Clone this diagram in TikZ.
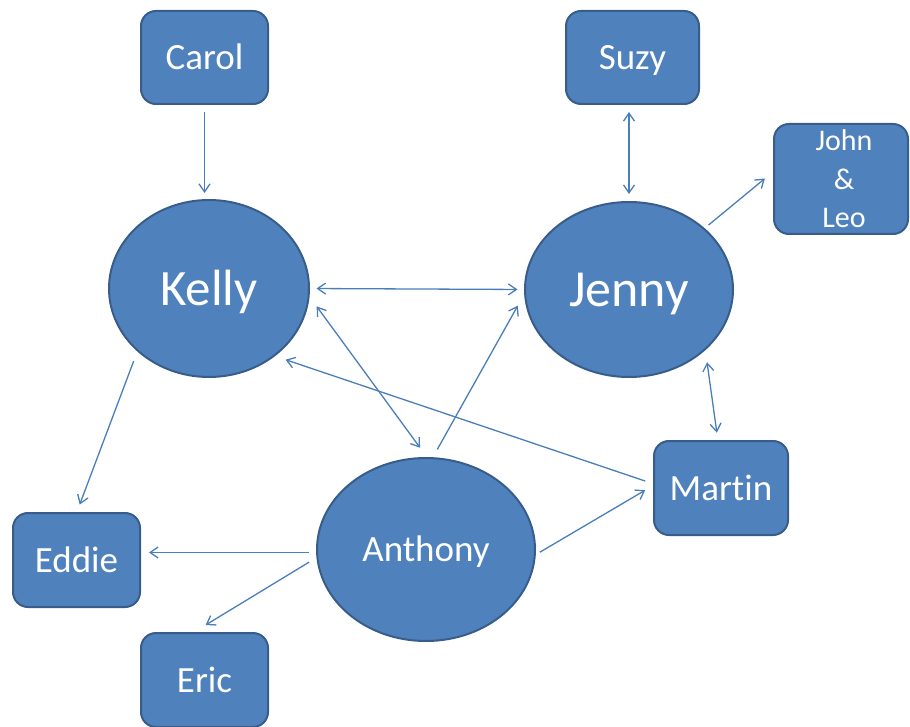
\documentclass[tikz,border=0pt]{standalone}
\usepackage{fontspec}
\setmainfont{Carlito}[Ligatures=NoCommon]
\usetikzlibrary{shapes.geometric,arrows.meta}
\definecolor{boxfill}{HTML}{4F81BD}
\definecolor{boxline}{HTML}{385D8A}
\definecolor{linkcol}{HTML}{4A7EBB}
\begin{document}
\begin{tikzpicture}[x=1pt,y=-1pt,
  person/.style={draw=boxline, fill=boxfill, line width=2pt, rounded corners=15pt,
    text=white, inner sep=0pt, outer sep=0pt, align=center,
    font=\fontsize{37}{40}\selectfont, text height=33pt, text depth=9pt},
  hub/.style={ellipse, draw=boxline, fill=boxfill, line width=2pt, text=white,
    inner sep=0pt, outer sep=0pt},
  tip/.tip={Straight Barb[length=8pt,width=11pt]},
  link/.style={draw=linkcol, line width=1.3pt, -tip},
  both/.style={draw=linkcol, line width=1.3pt, tip-tip}
]
\useasboundingbox (0,0) rectangle (910,727);

% people in boxes
\node[person, minimum width=127pt, minimum height=93pt] (carol) at (204.5,57.5) {Carol};
\node[person, minimum width=133pt, minimum height=93pt] (suzy) at (632.5,57.5) {Suzy};
\node[person, minimum width=134pt, minimum height=110pt, text height=, text depth=,
  font=\fontsize{30}{38.5}\selectfont] (johnleo) at (841,179) {\hspace*{6pt}John\\\hspace*{6pt}\&\\\hspace*{6pt}Leo};
\node[person, minimum width=134pt, minimum height=94pt] (martin) at (721,488) {Martin};
\node[person, minimum width=127pt, minimum height=94pt] (eddie) at (76.5,560) {Eddie};
\node[person, minimum width=127pt, minimum height=94pt] (eric) at (204.5,680) {Eric};

% people in ellipses
\node[hub, minimum width=200pt, minimum height=177pt, font=\fontsize{51}{56}\selectfont,
  text height=46pt, text depth=12.5pt] (kelly) at (209,288.5) {Kelly};
\node[hub, minimum width=208pt, minimum height=175pt, font=\fontsize{52}{56}\selectfont,
  text height=47pt, text depth=13pt] (jenny) at (629,289.5) {Jenny};
\node[hub, minimum width=218pt, minimum height=183pt, font=\fontsize{37}{40}\selectfont,
  text height=33pt, text depth=9pt] (anthony) at (426,549.5) {Anthony};

% connectors
\draw[link, shorten <=8pt, shorten >=7pt] (carol.south) -- (carol.south |- kelly.north);
\draw[both, shorten <=8pt, shorten >=8pt] (jenny.north |- suzy.south) -- (jenny.north);
\draw[link, shorten <=6pt, shorten >=11.8pt] (jenny.39) -- ([yshift=8pt]johnleo.west);
\draw[both, shorten <=7.5pt, shorten >=7.5pt] (kelly.east) -- (jenny.west);
\draw[both, shorten <=13.5pt, shorten >=12.7pt] (kelly.-4) -- (anthony.89);
\draw[link, shorten <=10pt] (anthony.86) -- ([xshift=-9pt]jenny.189);
\draw[link, shorten <=9.2pt, shorten >=12.3pt] ([yshift=4pt]martin.west) -- (kelly.-46);
\draw[link, shorten <=11.3pt, shorten >=9pt] (kelly.221) -- (eddie.north);
\coordinate (aw) at ([yshift=-3pt]anthony.west);
\draw[link, shorten <=8pt, shorten >=9pt] (aw) -- (aw -| eddie.east);
\draw[link, shorten <=9.7pt, shorten >=15.4pt] (anthony.184) -- ([xshift=-12pt]eric.north);
\draw[link, shorten <=5.8pt, shorten >=10.2pt] (anthony.-3) -- ([yshift=3pt]martin.west);
\draw[both, shorten <=13.3pt, shorten >=8.4pt] (jenny.-38) -- ([xshift=-3pt]martin.north);
\end{tikzpicture}
\end{document}
